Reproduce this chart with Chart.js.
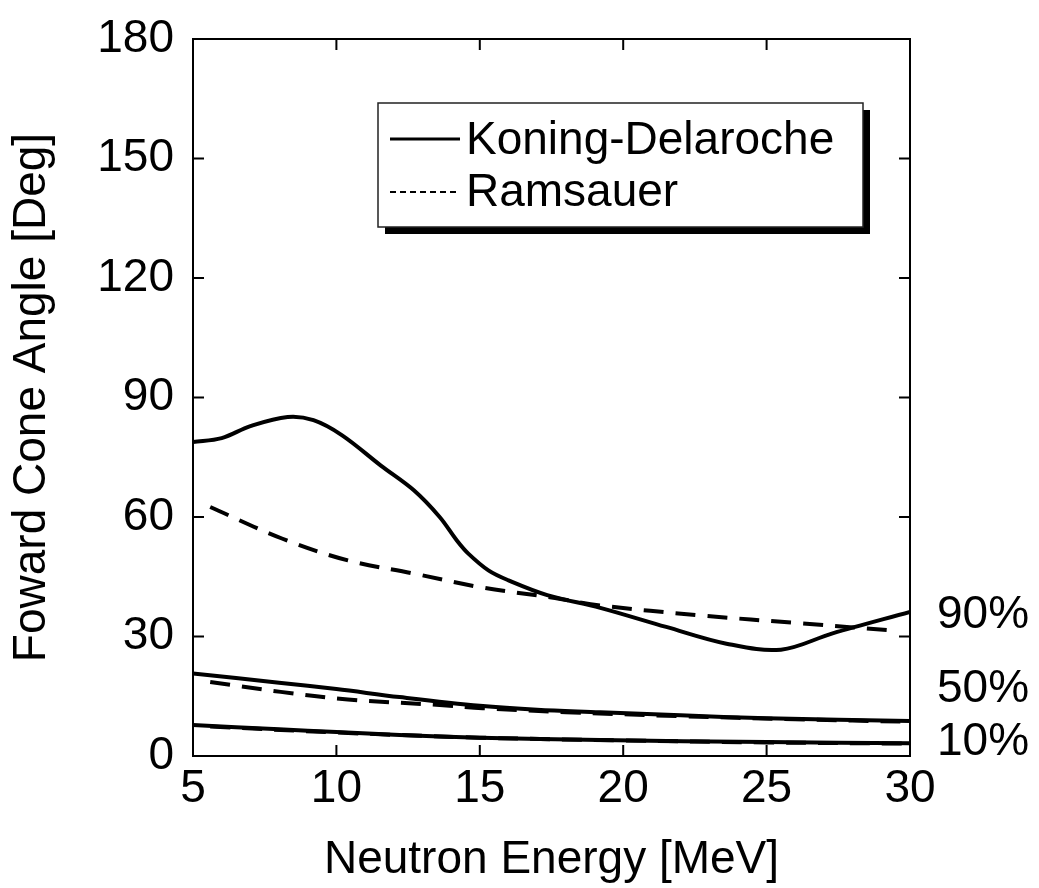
<!DOCTYPE html>
<html>
<head>
<meta charset="utf-8">
<script src="https://cdn.jsdelivr.net/npm/chart.js@4/dist/chart.umd.min.js"></script>
<style>
  html, body { margin: 0; padding: 0; background: #fff; }
  #wrap { width: 1039px; height: 888px; }
</style>
</head>
<body>
<div id="wrap"><canvas id="cone" width="1039" height="888"></canvas></div>
<script>
// energies [MeV] and cone angles [deg]
const kd90E = [5, 6, 7, 8.3, 9.2, 10.2, 11.55, 12.7, 13.6, 14.2, 14.6, 15.3, 16.0, 17.35, 19.2, 21.5, 23.6, 25.5, 27.3, 30];
const kd90  = [78.8, 79.8, 82.8, 85.1, 84.3, 80.5, 72.9, 66.7, 60, 54.1, 50.8, 46.6, 44.1, 40.4, 37.2, 32.4, 28.2, 26.7, 30.8, 36.2];
const rm90E = [5.6, 8.1, 10.4, 12.7, 15.0, 17.5, 19.2, 22.7, 26.2, 29.6];
const rm90  = [62.5, 54.6, 49.1, 45.8, 42.4, 39.8, 37.8, 35.3, 33.3, 31.4];

const kd50E = [5, 8, 10, 12.2, 15, 17, 19.2, 22, 25, 30];
const kd50  = [20.7, 18.4, 16.8, 14.8, 12.6, 11.6, 11.0, 10.2, 9.5, 8.8];
const rm50E = [5.6, 8.06, 10.4, 13.6, 15.1, 18, 22, 26, 30];
const rm50  = [18.6, 16.1, 14.2, 12.8, 12.0, 11.0, 10.0, 9.2, 8.6];

const kd10E = [5, 8, 10, 12.2, 15, 19.2, 25, 30];
const kd10  = [7.8, 6.7, 6.0, 5.3, 4.6, 4.0, 3.5, 3.2];
const rm10E = [5.6, 10, 15, 20, 25, 30];
const rm10  = [7.4, 5.9, 4.6, 3.9, 3.4, 3.1];

const legendNames = ['Koning-Delaroche', 'Ramsauer'];
const sideLabels = ['90%', '50%', '10%'];
const sideLabelAt = [35.3, 16.8, 3.5];

const FONT = '"Liberation Sans", Arial, Helvetica, sans-serif';
const DASH = [20, 12];

function pts(xs, ys) { return xs.map((x, i) => ({x: x, y: ys[i]})); }

function line(label, xs, ys, dashed) {
  return {
    label: label,
    data: pts(xs, ys),
    borderColor: '#000',
    borderWidth: 4,
    borderDash: dashed ? DASH : [],
    pointRadius: 0,
    fill: false,
    tension: 0.35,
    borderCapStyle: 'butt'
  };
}

// frame, inward ticks, % labels and the shadowed legend box
const decor = {
  id: 'decor',
  afterDraw(chart) {
    const ctx = chart.ctx;
    const a = chart.chartArea;
    const xs = chart.scales.x, ys = chart.scales.y;
    ctx.save();
    ctx.strokeStyle = '#000';
    ctx.lineWidth = 2;
    ctx.strokeRect(a.left, a.top, a.right - a.left, a.bottom - a.top);
    ctx.beginPath();
    ys.ticks.forEach(t => {
      const y = ys.getPixelForValue(t.value);
      ctx.moveTo(a.left, y); ctx.lineTo(a.left + 11, y);
      ctx.moveTo(a.right, y); ctx.lineTo(a.right - 11, y);
    });
    xs.ticks.forEach(t => {
      const x = xs.getPixelForValue(t.value);
      ctx.moveTo(x, a.bottom); ctx.lineTo(x, a.bottom - 11);
      ctx.moveTo(x, a.top); ctx.lineTo(x, a.top + 11);
    });
    ctx.stroke();

    ctx.fillStyle = '#000';
    ctx.font = '46px ' + FONT;
    ctx.textBaseline = 'middle';
    ctx.textAlign = 'left';
    sideLabels.forEach((s, i) => ctx.fillText(s, a.right + 27, ys.getPixelForValue(sideLabelAt[i])));

    // legend
    const bx = 378, by = 103, bw = 485, bh = 124;
    ctx.fillRect(bx + 7, by + 7, bw, bh);
    ctx.fillStyle = '#fff';
    ctx.fillRect(bx, by, bw, bh);
    ctx.lineWidth = 1.5;
    ctx.strokeStyle = '#222';
    ctx.strokeRect(bx, by, bw, bh);
    ctx.strokeStyle = '#000';
    ctx.lineWidth = 3;
    ctx.beginPath(); ctx.moveTo(390, 139); ctx.lineTo(460, 139); ctx.stroke();
    ctx.lineWidth = 2;
    ctx.setLineDash([6, 4]);
    ctx.beginPath(); ctx.moveTo(390, 192); ctx.lineTo(460, 192); ctx.stroke();
    ctx.setLineDash([]);
    ctx.fillStyle = '#000';
    ctx.fillText(legendNames[0], 466, 141);
    ctx.fillText(legendNames[1], 466, 193);
    ctx.restore();
  }
};

const bg = {
  id: 'bg',
  beforeDraw(chart) {
    const ctx = chart.ctx;
    ctx.save();
    ctx.fillStyle = '#fff';
    ctx.fillRect(0, 0, chart.width, chart.height);
    ctx.restore();
  }
};

new Chart(document.getElementById('cone'), {
  type: 'line',
  data: {
    datasets: [
      line(legendNames[0] + ' 90%', kd90E, kd90, false),
      line(legendNames[1] + ' 90%', rm90E, rm90, true),
      line(legendNames[0] + ' 50%', kd50E, kd50, false),
      line(legendNames[1] + ' 50%', rm50E, rm50, true),
      line(legendNames[0] + ' 10%', kd10E, kd10, false),
      line(legendNames[1] + ' 10%', rm10E, rm10, true)
    ]
  },
  options: {
    responsive: false,
    animation: false,
    layout: { padding: { top: 39, right: 129, left: 0, bottom: 0 } },
    plugins: { legend: { display: false }, tooltip: { enabled: false } },
    scales: {
      x: {
        type: 'linear', min: 5, max: 30,
        ticks: { stepSize: 5, color: '#000', font: { family: FONT, size: 46 }, padding: 6, maxRotation: 0 },
        grid: { display: false, drawTicks: false },
        border: { display: false },
        title: { display: true, text: 'Neutron Energy [MeV]', color: '#000', font: { family: FONT, size: 46 }, padding: 0 },
        afterFit(s) { s.height = 132; s.paddingLeft = 0; s.paddingRight = 0; }
      },
      y: {
        min: 0, max: 180,
        ticks: { stepSize: 30, color: '#000', font: { family: FONT, size: 46 }, padding: 19 },
        grid: { display: false, drawTicks: false },
        border: { display: false },
        title: { display: true, text: 'Foward Cone Angle [Deg]', color: '#000', font: { family: FONT, size: 46 }, padding: { top: 5, bottom: 0 } },
        afterFit(s) { s.width = 193; s.paddingTop = 0; s.paddingBottom = 0; }
      }
    }
  },
  plugins: [bg, decor]
});
</script>
</body>
</html>
